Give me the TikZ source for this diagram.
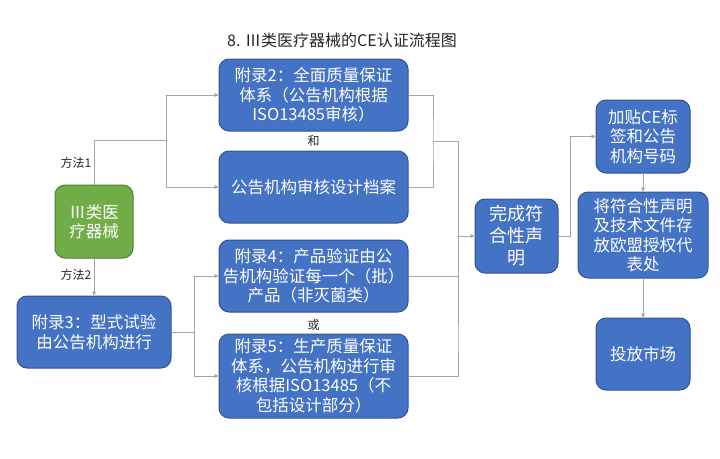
\documentclass[tikz,border=0pt]{standalone}
\usepackage{fontspec}
\setmainfont{Noto Sans CJK SC}
\usepackage{xcolor}
\definecolor{ceblue}{HTML}{4472C4}
\definecolor{ceblueline}{HTML}{2F5597}
\definecolor{cegreen}{HTML}{70AD47}
\definecolor{cegreenline}{HTML}{507E32}
\definecolor{cegray}{HTML}{A5A5A5}
\definecolor{ceink}{HTML}{262626}
\usetikzlibrary{arrows.meta}
\tikzset{
  cenode/.style  ={rectangle, rounded corners=10pt, draw=ceblueline, fill=ceblue,
                   line width=1pt, minimum width=189pt, minimum height=72pt, inner sep=0pt,
                   align=center, text=white, font=\fontsize{16.5}{19.5}\selectfont},
  cestart/.style ={cenode, fill=cegreen, draw=cegreenline},
  celine/.style  ={line width=0.9pt, draw=cegray},
  cearrow/.style ={celine, -{Triangle[length=4pt,width=4pt]}},
  celbl/.style   ={font=\fontsize{12}{14}\selectfont, text=ceink},
}
\begin{document}
\begin{tikzpicture}[x=1pt, y=-1pt]
  \useasboundingbox (0,0) rectangle (720,458);
  \node[celbl, font=\fontsize{16}{18}\selectfont] (title) at (342,40) {8. Ⅲ类医疗器械的CE认证流程图};
  \node[cenode] (app2) at (313.5,95) {附录2：全面质量保证\\体系（公告机构根据\\ISO13485审核）};
  \node[cenode] (design) at (313.5,187) {公告机构审核设计档案};
  \node[cestart, minimum width=78pt, minimum height=73pt] (device) at (94,221.5) {Ⅲ类医\\疗器械};
  \node[cenode, minimum width=154pt] (app3) at (94,332) {附录3：型式试验\\由公告机构进行};
  \node[cenode] (app4) at (313.5,276) {附录4：产品验证由公\\告机构验证每一个（批）\\产品（非灭菌类）};
  \node[cenode, minimum height=84pt] (app5) at (313.5,376)
       {附录5：生产质量保证\\体系，公告机构进行审\\核根据ISO13485（不\\包括设计部分）};
  \node[cenode, minimum width=83pt, minimum height=74pt, font=\fontsize{18}{22}\selectfont]
       (decl) at (516.5,236) {完成符\\合性声\\明};
  \node[cenode, minimum width=94pt, minimum height=73pt] (ce) at (643,136.5) {加贴CE标\\签和公告\\机构号码};
  \node[cenode, minimum width=130pt, minimum height=86pt] (file) at (643,235)
       {将符合性声明\\及技术文件存\\放欧盟授权代\\表处};
  \node[cenode, minimum width=94pt] (market) at (643,354) {投放市场};
  \node[celbl] (way1) at (76,163) {方法1};
  \node[celbl] (way2) at (76,275) {方法2};
  \node[celbl] (and) at (313.5,141) {和};
  \node[celbl] (or) at (313.5,325) {或};
  \coordinate (splitA) at (166,140);
  \coordinate (splitB) at (194,332);
  \coordinate (joinA) at (433,141);
  \coordinate (joinT) at (458,141);
  \coordinate (joinB) at (458,326);
  \coordinate (joinM) at (458,236);
  \coordinate (turn) at (570,236);
  \draw[celine]  (device.north) |- (splitA);
  \draw[cearrow] (splitA) |- (app2.west);
  \draw[cearrow] (splitA) |- (design.west);
  \draw[cearrow] (device) -- (app3);
  \draw[celine]  (app3.east) -- (splitB);
  \draw[cearrow] (splitB) |- (app4.west);
  \draw[cearrow] (splitB) |- (app5.west);
  \draw[celine]  (app2.east) -| (joinA) |- (design.east);
  \draw[celine]  (joinA) -- (joinT) -- (joinB);
  \draw[celine]  (app4.east) -| (joinB) |- (app5.east);
  \draw[cearrow] (joinM) -- (decl.west);
  \draw[cearrow] (decl.east) -- (turn) |- (ce.west);
  \draw[cearrow] (ce) -- (file);
  \draw[cearrow] (file) -- (market);
\end{tikzpicture}
\end{document}
